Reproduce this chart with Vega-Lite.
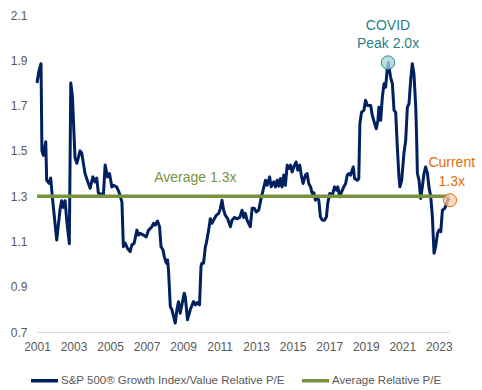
{
  "$schema": "https://vega.github.io/schema/vega-lite/v6.json",
  "width": 412,
  "height": 317,
  "autosize": "none",
  "padding": {"left": 37, "top": 15, "right": 33, "bottom": 58},
  "config": {
    "view": {"stroke": null},
    "font": "Liberation Sans",
    "axis": {"labelFont": "Liberation Sans", "labelFontSize": 12, "labelColor": "#595959", "grid": false, "ticks": false, "tickSize": 0, "title": null, "labelFlush": false, "labelOverlap": false},
    "legend": {"labelFont": "Liberation Sans", "labelFontSize": 11.5, "labelColor": "#595959", "labelLimit": 400}
  },
  "datasets": {
    "main": [
      {"t":2001.00,"v":1.80},{"t":2001.11,"v":1.855},{"t":2001.22,"v":1.885},{"t":2001.27,"v":1.50},{"t":2001.35,"v":1.48},
      {"t":2001.48,"v":1.54},{"t":2001.53,"v":1.37},{"t":2001.66,"v":1.357},{"t":2001.75,"v":1.38},{"t":2001.86,"v":1.28},
      {"t":2002.08,"v":1.106},{"t":2002.26,"v":1.24},{"t":2002.35,"v":1.28},{"t":2002.44,"v":1.25},{"t":2002.54,"v":1.28},
      {"t":2002.63,"v":1.19},{"t":2002.77,"v":1.09},{"t":2002.85,"v":1.80},{"t":2002.94,"v":1.74},{"t":2003.08,"v":1.47},
      {"t":2003.18,"v":1.445},{"t":2003.36,"v":1.50},{"t":2003.45,"v":1.49},{"t":2003.63,"v":1.40},{"t":2003.81,"v":1.357},
      {"t":2003.91,"v":1.335},{"t":2004.06,"v":1.385},{"t":2004.18,"v":1.363},{"t":2004.27,"v":1.38},{"t":2004.36,"v":1.313},
      {"t":2004.55,"v":1.309},{"t":2004.64,"v":1.309},{"t":2004.73,"v":1.437},{"t":2004.86,"v":1.385},{"t":2004.97,"v":1.40},
      {"t":2005.10,"v":1.34},{"t":2005.19,"v":1.348},{"t":2005.37,"v":1.34},{"t":2005.51,"v":1.313},{"t":2005.65,"v":1.275},
      {"t":2005.73,"v":1.077},{"t":2005.83,"v":1.093},{"t":2005.95,"v":1.07},{"t":2006.10,"v":1.055},{"t":2006.19,"v":1.084},
      {"t":2006.32,"v":1.092},{"t":2006.47,"v":1.15},{"t":2006.56,"v":1.128},{"t":2006.65,"v":1.136},{"t":2006.83,"v":1.128},
      {"t":2006.98,"v":1.12},{"t":2007.11,"v":1.15},{"t":2007.29,"v":1.165},{"t":2007.38,"v":1.18},{"t":2007.47,"v":1.172},
      {"t":2007.60,"v":1.19},{"t":2007.71,"v":1.165},{"t":2007.79,"v":1.077},{"t":2007.90,"v":1.062},{"t":2007.97,"v":1.033},
      {"t":2008.08,"v":1.004},{"t":2008.15,"v":1.018},{"t":2008.20,"v":0.974},{"t":2008.30,"v":0.812},{"t":2008.39,"v":0.798},
      {"t":2008.48,"v":0.768},{"t":2008.57,"v":0.739},{"t":2008.66,"v":0.798},{"t":2008.75,"v":0.834},{"t":2008.84,"v":0.783},
      {"t":2008.99,"v":0.842},{"t":2009.06,"v":0.871},{"t":2009.12,"v":0.856},{"t":2009.24,"v":0.754},{"t":2009.39,"v":0.798},
      {"t":2009.57,"v":0.834},{"t":2009.67,"v":0.82},{"t":2009.76,"v":0.83},{"t":2009.90,"v":0.82},{"t":2009.98,"v":0.989},
      {"t":2010.03,"v":1.004},{"t":2010.12,"v":1.004},{"t":2010.22,"v":1.077},{"t":2010.27,"v":1.092},{"t":2010.40,"v":1.15},
      {"t":2010.49,"v":1.20},{"t":2010.58,"v":1.18},{"t":2010.67,"v":1.194},{"t":2010.82,"v":1.216},{"t":2010.95,"v":1.224},
      {"t":2011.04,"v":1.246},{"t":2011.13,"v":1.282},{"t":2011.22,"v":1.238},{"t":2011.31,"v":1.216},{"t":2011.44,"v":1.20},
      {"t":2011.59,"v":1.165},{"t":2011.68,"v":1.194},{"t":2011.81,"v":1.206},{"t":2011.95,"v":1.20},{"t":2012.10,"v":1.206},
      {"t":2012.23,"v":1.238},{"t":2012.32,"v":1.206},{"t":2012.41,"v":1.224},{"t":2012.50,"v":1.194},{"t":2012.68,"v":1.165},
      {"t":2012.78,"v":1.246},{"t":2012.90,"v":1.246},{"t":2013.01,"v":1.23},{"t":2013.14,"v":1.238},{"t":2013.27,"v":1.29},
      {"t":2013.38,"v":1.326},{"t":2013.51,"v":1.37},{"t":2013.60,"v":1.348},{"t":2013.74,"v":1.385},{"t":2013.82,"v":1.341},
      {"t":2013.96,"v":1.363},{"t":2014.06,"v":1.341},{"t":2014.15,"v":1.37},{"t":2014.24,"v":1.344},{"t":2014.33,"v":1.378},
      {"t":2014.42,"v":1.341},{"t":2014.51,"v":1.393},{"t":2014.60,"v":1.348},{"t":2014.70,"v":1.437},{"t":2014.79,"v":1.422},
      {"t":2014.88,"v":1.437},{"t":2014.97,"v":1.407},{"t":2015.06,"v":1.429},{"t":2015.19,"v":1.451},{"t":2015.28,"v":1.415},
      {"t":2015.39,"v":1.437},{"t":2015.47,"v":1.393},{"t":2015.57,"v":1.356},{"t":2015.70,"v":1.393},{"t":2015.79,"v":1.40},
      {"t":2015.88,"v":1.356},{"t":2015.98,"v":1.341},{"t":2016.07,"v":1.312},{"t":2016.16,"v":1.315},{"t":2016.25,"v":1.282},
      {"t":2016.34,"v":1.297},{"t":2016.43,"v":1.282},{"t":2016.52,"v":1.209},{"t":2016.62,"v":1.194},{"t":2016.74,"v":1.194},
      {"t":2016.85,"v":1.209},{"t":2016.92,"v":1.268},{"t":2017.03,"v":1.312},{"t":2017.17,"v":1.304},{"t":2017.29,"v":1.341},
      {"t":2017.40,"v":1.326},{"t":2017.47,"v":1.341},{"t":2017.58,"v":1.297},{"t":2017.68,"v":1.319},{"t":2017.80,"v":1.341},
      {"t":2017.90,"v":1.356},{"t":2017.99,"v":1.393},{"t":2018.08,"v":1.40},{"t":2018.17,"v":1.393},{"t":2018.32,"v":1.429},
      {"t":2018.39,"v":1.378},{"t":2018.54,"v":1.37},{"t":2018.62,"v":1.378},{"t":2018.68,"v":1.62},{"t":2018.77,"v":1.671},
      {"t":2018.90,"v":1.679},{"t":2018.99,"v":1.723},{"t":2019.09,"v":1.70},{"t":2019.27,"v":1.70},{"t":2019.36,"v":1.657},
      {"t":2019.49,"v":1.62},{"t":2019.58,"v":1.598},{"t":2019.67,"v":1.635},{"t":2019.72,"v":1.693},{"t":2019.82,"v":1.635},
      {"t":2019.91,"v":1.737},{"t":2020.00,"v":1.796},{"t":2020.09,"v":1.781},{"t":2020.18,"v":1.863},{"t":2020.24,"v":1.89},
      {"t":2020.36,"v":1.826},{"t":2020.46,"v":1.796},{"t":2020.55,"v":1.679},{"t":2020.64,"v":1.671},{"t":2020.73,"v":1.517},
      {"t":2020.82,"v":1.385},{"t":2020.87,"v":1.341},{"t":2020.97,"v":1.37},{"t":2021.09,"v":1.488},{"t":2021.19,"v":1.547},
      {"t":2021.28,"v":1.693},{"t":2021.37,"v":1.708},{"t":2021.46,"v":1.811},{"t":2021.55,"v":1.885},{"t":2021.64,"v":1.841},
      {"t":2021.74,"v":1.693},{"t":2021.79,"v":1.547},{"t":2021.83,"v":1.40},{"t":2021.92,"v":1.37},{"t":2022.01,"v":1.29},
      {"t":2022.10,"v":1.341},{"t":2022.19,"v":1.40},{"t":2022.28,"v":1.429},{"t":2022.38,"v":1.40},{"t":2022.46,"v":1.341},
      {"t":2022.56,"v":1.297},{"t":2022.65,"v":1.209},{"t":2022.74,"v":1.048},{"t":2022.83,"v":1.077},{"t":2022.93,"v":1.136},
      {"t":2023.01,"v":1.15},{"t":2023.11,"v":1.143},{"t":2023.20,"v":1.238},{"t":2023.33,"v":1.246},{"t":2023.44,"v":1.268},
      {"t":2023.51,"v":1.29},{"t":2023.56,"v":1.282}
    ],
    "avg": [{"t":2001.0,"v":1.3},{"t":2023.56,"v":1.3}],
    "peak": [{"t":2020.22,"v":1.89}],
    "current": [{"t":2023.62,"v":1.282}],
    "avgLabel": [{"t":2009.67,"v":1.379,"text":"Average 1.3x"}],
    "covidLabel": [{"t":2020.22,"v":2.050,"text":"COVID"},{"t":2020.22,"v":1.970,"text":"Peak 2.0x"}],
    "curLabel": [{"t":2023.71,"v":1.445,"text":"Current"},{"t":2023.71,"v":1.363,"text":"1.3x"}]
  },
  "encoding": {
    "x": {"field": "t", "type": "quantitative",
          "scale": {"domain": [2001, 2023.56], "nice": false, "zero": false},
          "axis": {"values": [2001,2003,2005,2007,2009,2011,2013,2015,2017,2019,2021,2023], "format": "d", "domainColor": "#D9D9D9", "domainWidth": 1, "labelPadding": 9, "labelOverlap": false, "labelFlush": false, "labelBound": false, "labelSeparation": 0}},
    "y": {"field": "v", "type": "quantitative",
          "scale": {"domain": [0.7, 2.1], "nice": false, "zero": false},
          "axis": {"values": [0.7,0.9,1.1,1.3,1.5,1.7,1.9,2.1], "format": ".1f", "domain": false, "labelPadding": 10, "labelOverlap": false}}
  },
  "layer": [
    {
      "data": {"name": "main"},
      "mark": {"type": "line", "strokeWidth": 3, "strokeJoin": "round"},
      "encoding": {
        "color": {"datum": "S&P 500® Growth Index/Value Relative P/E", "type": "nominal",
                  "scale": {"domain": ["S&P 500® Growth Index/Value Relative P/E", "Average Relative P/E"], "range": ["#002060", "#77933C"]},
                  "legend": {"title": null, "orient": "none", "direction": "horizontal", "legendX": -8, "legendY": 350, "symbolType": "stroke", "symbolSize": 729, "symbolStrokeWidth": 3.5, "labelOffset": 1, "columnPadding": 10, "padding": 0, "labelLimit": 400}}
      }
    },
    {
      "data": {"name": "avg"},
      "mark": {"type": "line", "strokeWidth": 3.5},
      "encoding": {
        "color": {"datum": "Average Relative P/E", "type": "nominal"}
      }
    },
    {
      "data": {"name": "peak"},
      "mark": {"type": "point", "filled": true, "fill": "#A9D4D8", "fillOpacity": 0.8, "stroke": "#2A8C94", "strokeWidth": 1, "size": 180}
    },
    {
      "data": {"name": "current"},
      "mark": {"type": "point", "filled": true, "fill": "#F8CBAD", "fillOpacity": 0.75, "stroke": "#E46C0A", "strokeWidth": 1, "size": 170}
    },
    {
      "data": {"name": "avgLabel"},
      "mark": {"type": "text", "fontSize": 14, "font": "Liberation Sans", "baseline": "middle", "align": "center", "color": "#77933C"},
      "encoding": {"text": {"field": "text"}}
    },
    {
      "data": {"name": "covidLabel"},
      "mark": {"type": "text", "fontSize": 14, "font": "Liberation Sans", "baseline": "middle", "align": "center", "color": "#1F7F86"},
      "encoding": {"text": {"field": "text"}}
    },
    {
      "data": {"name": "curLabel"},
      "mark": {"type": "text", "fontSize": 14, "font": "Liberation Sans", "baseline": "middle", "align": "center", "color": "#E46C0A"},
      "encoding": {"text": {"field": "text"}}
    }
  ]
}
